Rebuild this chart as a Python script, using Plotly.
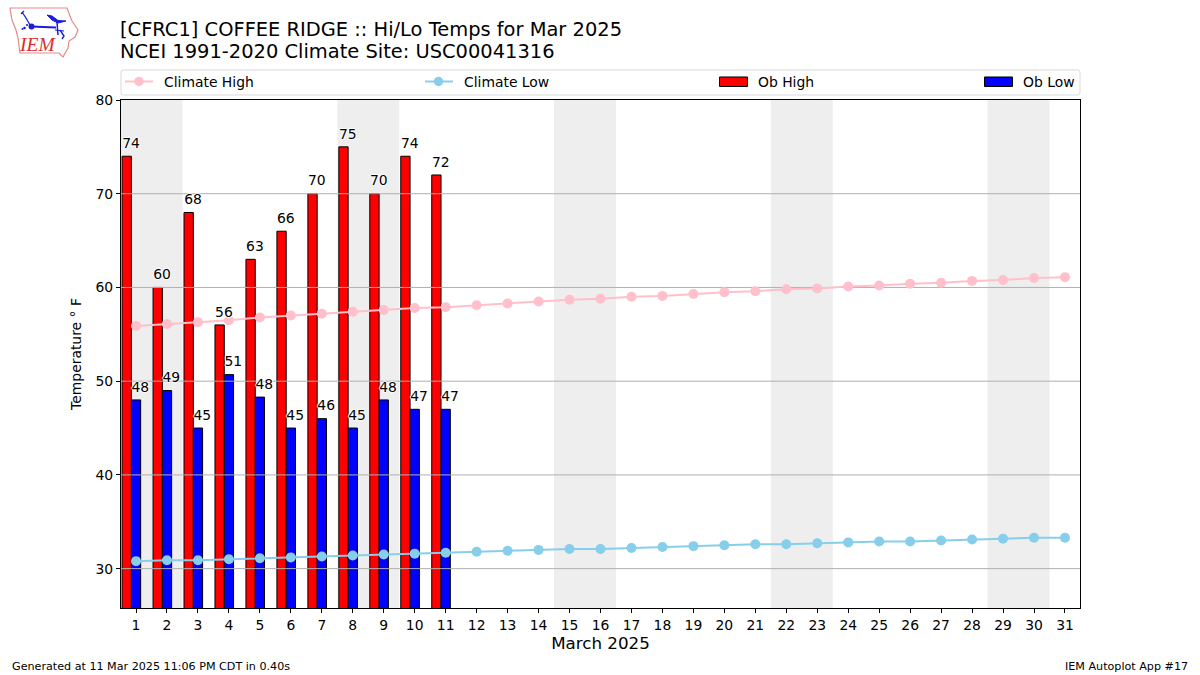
import plotly.graph_objects as go

PAGE_W = 1200
PAGE_H = 675
LEFT, RIGHT, TOP, BOTTOM = 121, 1080, 100, 608

FONT = "DejaVu Sans"

days = list(range(1, 32))
ob_high = [74, 60, 68, 56, 63, 66, 70, 75, 70, 74, 72]
ob_low = [48, 49, 45, 50.7, 48.3, 45, 46, 45, 48, 47, 47]
ob_days = days[:len(ob_high)]
climate_high = [
    55.9, 56.1, 56.3, 56.5, 56.8, 57.0, 57.2, 57.4, 57.6, 57.8, 57.9,
    58.1, 58.3, 58.5, 58.7, 58.8, 59.0, 59.1, 59.3, 59.5, 59.6, 59.8,
    59.9, 60.1, 60.2, 60.4, 60.5, 60.7, 60.8, 61.0, 61.1,
]
climate_low = [
    30.8, 30.9, 30.9, 31.0, 31.1, 31.2, 31.3, 31.4, 31.5, 31.6, 31.7,
    31.8, 31.9, 32.0, 32.1, 32.1, 32.2, 32.3, 32.4, 32.5, 32.6, 32.6,
    32.7, 32.8, 32.9, 32.9, 33.0, 33.1, 33.2, 33.3, 33.3,
]
weekend_starts = [0.5, 7.5, 14.5, 21.5, 28.5]
y_ticks = [30, 40, 50, 60, 70, 80]

X_RANGE = [0.515, 31.485]
Y_RANGE = [25.8, 80]
BAR_WIDTH = 0.3
HALO = "1px 0 1px white, -1px 0 1px white, 0 1px 1px white, 0 -1px 1px white"


def px_x(x):
    return (x - LEFT) / (RIGHT - LEFT)


def px_y(y):
    return (BOTTOM - y) / (BOTTOM - TOP)


def px_path(points, close=False):
    parts = [f"{'M' if i == 0 else 'L'} {px_x(x):.5f} {px_y(y):.5f}" for i, (x, y) in enumerate(points)]
    return " ".join(parts) + (" Z" if close else "")


def rounded_box(x0, y0, x1, y1, r):
    def p(x, y):
        return f"{px_x(x):.5f} {px_y(y):.5f}"

    return (
        f"M {p(x0 + r, y0)} L {p(x1 - r, y0)} Q {p(x1, y0)} {p(x1, y0 + r)} "
        f"L {p(x1, y1 - r)} Q {p(x1, y1)} {p(x1 - r, y1)} "
        f"L {p(x0 + r, y1)} Q {p(x0, y1)} {p(x0, y1 - r)} "
        f"L {p(x0, y0 + r)} Q {p(x0, y0)} {p(x0 + r, y0)} Z"
    )


def page_shape(points, color, width=1.0, fill=None, close=False):
    return dict(
        type="path", xref="paper", yref="paper", path=px_path(points, close),
        line=dict(color=color, width=width), fillcolor=fill, layer="above",
    )


def page_circle(cx, cy, r, color):
    return dict(
        type="circle", xref="paper", yref="paper",
        x0=px_x(cx - r), x1=px_x(cx + r), y0=px_y(cy + r), y1=px_y(cy - r),
        line=dict(color=color, width=0), fillcolor=color, layer="above",
    )


def page_text(x, y, text, size, anchor="left", color="black", family=FONT):
    return dict(
        x=px_x(x), y=px_y(y), xref="paper", yref="paper", text=text, showarrow=False,
        xanchor=anchor, yanchor="middle", font=dict(family=family, size=size, color=color),
        borderpad=0, borderwidth=0,
    )


fig = go.Figure()

fig.add_trace(go.Bar(
    x=ob_days, y=ob_high, width=BAR_WIDTH, offset=-0.45, name="Ob High",
    marker=dict(color="red", line=dict(color="black", width=1)), showlegend=False,
))
fig.add_trace(go.Bar(
    x=ob_days, y=ob_low, width=BAR_WIDTH, offset=-0.15, name="Ob Low",
    marker=dict(color="blue", line=dict(color="black", width=1)), showlegend=False,
))

# gridlines sit on top of the bars in the original, so they are a trace and not axis grid
grid_x, grid_y = [], []
for tick in y_ticks[:-1]:
    grid_x += [X_RANGE[0], X_RANGE[1], None]
    grid_y += [tick, tick, None]
fig.add_trace(go.Scatter(
    x=grid_x, y=grid_y, mode="lines", line=dict(color="#b0b0b0", width=1),
    hoverinfo="skip", showlegend=False,
))

for values, color, name in [(climate_high, "pink", "Climate High"), (climate_low, "skyblue", "Climate Low")]:
    fig.add_trace(go.Scatter(
        x=days, y=values, mode="lines+markers", name=name, showlegend=False,
        line=dict(color=color, width=2), marker=dict(color=color, size=10),
    ))

# invisible markers push the value labels a few pixels clear of the bar tops
for values, shift in [(ob_high, -0.16), (ob_low, 0.14)]:
    fig.add_trace(go.Scatter(
        x=[d + shift for d in ob_days], y=values, mode="markers+text", textposition="top center",
        text=[f"{v:.0f}" for v in values], hoverinfo="skip", showlegend=False,
        marker=dict(size=6, opacity=0),
        textfont=dict(family=FONT, size=13.9, color="black", shadow=HALO),
    ))

shapes = [
    dict(type="rect", xref="x", yref="paper", x0=max(start, X_RANGE[0]), x1=start + 2, y0=0, y1=1,
         fillcolor="#eeeeee", line=dict(width=0), layer="below")
    for start in weekend_starts
]

# legend strip above the plot
shapes.append(dict(
    type="path", xref="paper", yref="paper", path=rounded_box(121, 70, 1080, 95, 2.5),
    line=dict(color="#d9d9d9", width=1), fillcolor="white", layer="above",
))
shapes.append(page_shape([(125, 81.5), (153, 81.5)], "pink", 2))
shapes.append(page_circle(139, 81.5, 4.7, "pink"))
shapes.append(page_shape([(425, 81.5), (453, 81.5)], "skyblue", 2))
shapes.append(page_circle(438.5, 81.5, 4.7, "skyblue"))
shapes.append(page_shape([(719.5, 77), (747.5, 77), (747.5, 86.5), (719.5, 86.5)], "black", 1, "red", True))
shapes.append(page_shape([(984.5, 77), (1012.5, 77), (1012.5, 86.5), (984.5, 86.5)], "black", 1, "blue", True))

# IEM logo: state outline and the blue symbol
logo_red = "#e58a8a"
logo_blue = "#1c1cdc"
shapes.append(page_shape(
    [(10, 8), (67, 8), (70, 16), (72, 21), (78, 30), (75, 37), (69, 41), (68, 48), (63, 57), (59, 53),
     (20, 53), (18, 38), (16, 30), (12, 20)],
    logo_red, 1.2, None, True,
))
shapes.append(page_shape([(31, 26.5), (56, 27.5)], logo_blue, 2))
shapes.append(page_shape([(30, 25), (26, 18), (22, 12)], logo_blue, 1.3))
shapes.append(page_shape([(21, 14), (24, 11)], logo_blue, 1.3))
shapes.append(page_shape([(47, 15), (52, 16), (58, 20.5), (66, 21), (58, 23), (52, 20)], logo_blue, 1, logo_blue, True))
shapes.append(page_shape([(57, 22), (58, 35)], logo_blue, 1.5))
shapes.append(page_shape([(55, 30), (64, 31)], logo_blue, 1.2))
shapes.append(page_shape([(60, 30), (64, 36), (62, 39)], logo_blue, 1.4))
shapes.append(page_circle(31.5, 26.5, 3, logo_blue))
shapes.append(page_circle(24.5, 28, 1.3, logo_blue))
shapes.append(page_circle(27, 25, 1.1, logo_blue))
shapes.append(page_circle(22.5, 29, 1.0, logo_blue))

annotations = [
    page_text(120, 51.5, "NCEI 1991-2020 Climate Site: USC00041316", 19.45),
    page_text(164, 82, "Climate High", 13.9),
    page_text(464, 82, "Climate Low", 13.9),
    page_text(758, 82, "Ob High", 13.9),
    page_text(1023, 82, "Ob Low", 13.9),
    page_text(12, 666, "Generated at 11 Mar 2025 11:06 PM CDT in 0.40s", 11.15),
    page_text(1188, 666, "IEM Autoplot App #17", 11.15, anchor="right"),
    page_text(37.5, 45, "<i>IEM</i>", 19.5, anchor="center", color="#d62f2f", family="Liberation Serif"),
]

fig.update_layout(
    width=PAGE_W,
    height=PAGE_H,
    margin=dict(l=LEFT, r=PAGE_W - RIGHT, t=TOP, b=PAGE_H - BOTTOM, autoexpand=False),
    paper_bgcolor="white",
    plot_bgcolor="white",
    barmode="overlay",
    showlegend=False,
    hovermode=False,
    font=dict(family=FONT, size=13.9, color="black"),
    title=dict(
        text="[CFRC1] COFFEE RIDGE :: Hi/Lo Temps for Mar 2025", x=120 / PAGE_W, xref="container", xanchor="left",
        y=1 - 29 / PAGE_H, yref="container", yanchor="middle", font=dict(family=FONT, size=19.45, color="black"),
    ),
    shapes=shapes,
    annotations=annotations,
)
fig.update_xaxes(
    range=X_RANGE, tickmode="array", tickvals=days, ticktext=[str(d) for d in days], showgrid=False, zeroline=False,
    showline=True, mirror=True, linecolor="black", linewidth=1, ticks="outside", ticklen=4, tickcolor="black",
    title=dict(text="March 2025", font=dict(size=16.7), standoff=5),
)
fig.update_yaxes(
    range=Y_RANGE, tickmode="array", tickvals=y_ticks, showgrid=False, zeroline=False,
    showline=True, mirror=True, linecolor="black", linewidth=1, ticks="outside", ticklen=4, tickcolor="black",
    title=dict(text="Temperature ° F", font=dict(size=13.9), standoff=10),
)

fig.write_html(
    "out.html",
    config=dict(displayModeBar=False),
    post_script="document.body.style.margin='0';",
)
